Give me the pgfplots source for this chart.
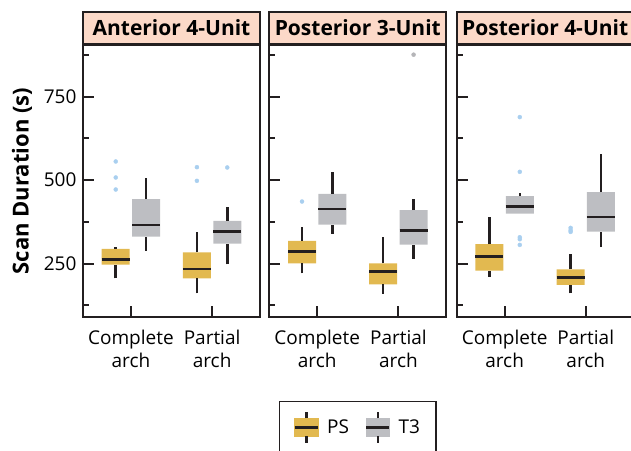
\documentclass[border=0pt]{standalone}
\usepackage{fontspec}
\setmainfont{Open Sans}
\usepackage{pgfplots}
\pgfplotsset{compat=1.18}
\definecolor{psgold}{HTML}{E2B950}
\definecolor{tgray}{HTML}{BDBEC2}
\definecolor{peach}{HTML}{FCD9C8}
\definecolor{outblue}{HTML}{A9CFEF}
\definecolor{outgray}{HTML}{B5B5B8}
\definecolor{frame}{HTML}{231F20}
\pgfplotsset{
  wh/.style={mark=none, line width=2.5pt, color=frame},
  med/.style={mark=none, line width=2.5pt, color=frame},
  outl/.style={only marks, mark=*, mark size=2pt, color=#1, mark options={draw=#1, fill=#1}},
  panel/.style={
    scale only axis, width=177pt, height=272pt,
    xmin=0.41, xmax=2.59, ymin=90, ymax=905,
    xtick={1,2}, xticklabels={{Complete\\arch},{Partial\\arch}},
    ytick={250,500,750}, minor ytick={125,375,625,875},
    tick align=inside, xtick pos=bottom, ytick pos=left,
    major tick length=11pt, minor tick length=6pt,
    tick style={line width=2pt, color=frame},
    axis line style={line width=2.2pt, color=frame},
    x tick label style={align=center, font=\fontsize{19}{23}\selectfont, yshift=-9.5pt},
    y tick label style={font=\fontsize{19}{23}\selectfont, xshift=-3pt},
    /pgf/number format/assume math mode=true,
    every axis title shift=0pt,
    title style={at={(0.5,1)}, anchor=south, yshift=0pt, draw=frame, fill=peach,
      line width=2.2pt, minimum width=177pt, minimum height=32pt, inner sep=0pt,
      font=\bfseries\fontsize{21}{24}\selectfont},
  },
}
% box: colour, centre, left, right, lower whisker, lower quartile, median, upper quartile, upper whisker
\newcommand{\bx}[9]{%
  \addplot[forget plot, draw=none, fill=#1, mark=none] coordinates {(#3,#6) (#4,#6) (#4,#8) (#3,#8) (#3,#6)};
  \addplot[forget plot, wh] coordinates {(#2,#5) (#2,#6)};
  \addplot[forget plot, wh] coordinates {(#2,#8) (#2,#9)};
  \addplot[forget plot, med] coordinates {(#3,#7) (#4,#7)};
}
\begin{document}
\begin{tikzpicture}
% Panel 1
\begin{axis}[panel, at={(83pt,133pt)}, anchor=south west, title={Anterior 4-Unit}]
\bx{psgold}{0.813}{0.6405}{0.9855}{206}{247}{263}{294}{301}
\bx{tgray}{1.187}{1.0145}{1.3595}{289}{331}{366}{443}{506}
\bx{psgold}{1.813}{1.6405}{1.9855}{161}{206}{234}{284}{346}
\bx{tgray}{2.187}{2.0145}{2.3595}{248}{310}{346}{378}{420}
\addplot[forget plot, outl=outblue] coordinates {(0.813,556) (0.813,508) (0.813,472) (1.813,539) (1.813,498) (2.187,538)};
\end{axis}
% Panel 2
\begin{axis}[panel, at={(269.3pt,133pt)}, anchor=south west, title={Posterior 3-Unit}, yticklabels={},
  legend style={at={(0.5,-0.308)}, anchor=north, draw=frame, line width=1.5pt, legend columns=2,
    font=\fontsize{19}{23}\selectfont, inner xsep=14pt, inner ysep=9pt,
    /tikz/every odd column/.append style={column sep=6pt},
    /tikz/every even column/.append style={column sep=14pt}},
  legend cell align=left]
\bx{psgold}{0.813}{0.6405}{0.9855}{221}{251}{286}{318}{359}
\bx{tgray}{1.187}{1.0145}{1.3595}{339}{367}{414}{459}{524}
\bx{psgold}{1.813}{1.6405}{1.9855}{159}{188}{226}{251}{330}
\bx{tgray}{2.187}{2.0145}{2.3595}{265}{307}{349}{410}{445}
\addplot[forget plot, outl=outblue] coordinates {(0.813,436)};
\addplot[forget plot, outl=outgray] coordinates {(2.187,876)};
\addlegendimage{legend image code/.code={
  \fill[psgold] (0pt,-9pt) rectangle (23pt,9pt);
  \draw[line width=2.5pt, frame] (11.5pt,-15.5pt) -- (11.5pt,-9pt) (11.5pt,9pt) -- (11.5pt,15.5pt);
  \draw[line width=2.5pt, frame] (0pt,0pt) -- (23pt,0pt);}}
\addlegendentry{PS}
\addlegendimage{legend image code/.code={
  \fill[tgray] (0pt,-9pt) rectangle (23pt,9pt);
  \draw[line width=2.5pt, frame] (11.5pt,-15.5pt) -- (11.5pt,-9pt) (11.5pt,9pt) -- (11.5pt,15.5pt);
  \draw[line width=2.5pt, frame] (0pt,0pt) -- (23pt,0pt);}}
\addlegendentry{T3}
\end{axis}
% Panel 3
\begin{axis}[panel, at={(456.7pt,133pt)}, anchor=south west, title={Posterior 4-Unit}, yticklabels={}]
\bx{psgold}{0.813}{0.6405}{0.9855}{211}{229}{271}{308}{391}
\bx{tgray}{1.187}{1.0145}{1.3595}{400}{400}{421}{452}{463}
\bx{psgold}{1.813}{1.6405}{1.9855}{161}{186}{208}{233}{279}
\bx{tgray}{2.187}{2.0145}{2.3595}{299}{346}{389}{464}{579}
\addplot[forget plot, outl=outblue] coordinates {(1.187,689) (1.187,525) (1.187,329) (1.187,323) (1.187,306) (1.813,357) (1.813,350) (1.813,345)};
\end{axis}
\node[rotate=90, font=\bfseries\fontsize{22}{24}\selectfont] at (22pt,269pt) {Scan Duration (s)};
\pgfresetboundingbox
\path[use as bounding box] (0pt,0pt) rectangle (631pt,450pt);
\end{tikzpicture}
\end{document}
